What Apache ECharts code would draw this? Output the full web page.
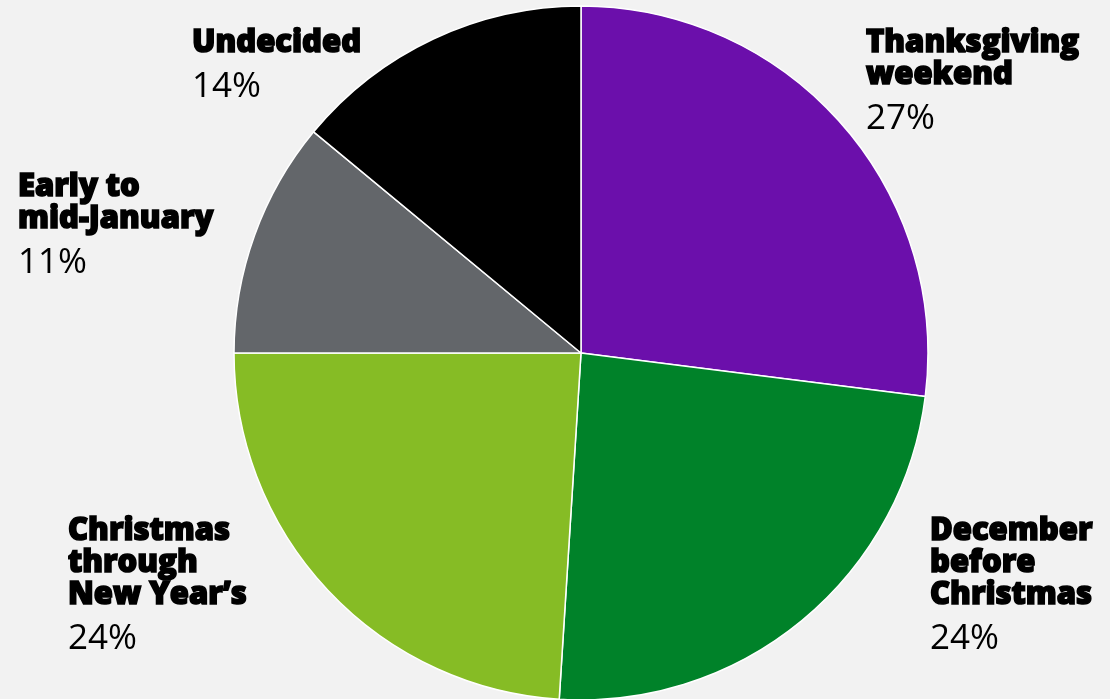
<!DOCTYPE html>
<html>
<head>
<meta charset="utf-8">
<script src="https://cdn.jsdelivr.net/npm/echarts@6/dist/echarts.min.js"></script>
<style>
  html, body { margin: 0; padding: 0; background: #f2f2f2; }
  #chart { width: 1110px; height: 699px; }
</style>
</head>
<body>
<div id="chart"></div>
<script>
// Holiday timing shares, clockwise from 12 o'clock
const categories = [
  'Thanksgiving\nweekend',
  'December\nbefore\nChristmas',
  'Christmas\nthrough\nNew Year\u2019s',
  'Early to\nmid-January',
  'Undecided'
];
const shares = [27, 24, 24, 11, 14];
const sliceColors = ['#6b0fab', '#008229', '#86bc25', '#63666a', '#000000'];

// Label anchors (top-left corner of each label block)
const labelAnchors = [
  [866, 27],
  [930, 515],
  [68, 515],
  [18, 171],
  [192, 27]
];

const chart = echarts.init(document.getElementById('chart'), null, { renderer: 'canvas' });

chart.setOption({
  backgroundColor: '#f2f2f2',
  animation: false,
  series: [{
    type: 'pie',
    center: [581, 353],
    radius: 347,
    startAngle: 90,
    clockwise: true,
    data: categories.map((name, i) => ({
      name: name,
      value: shares[i],
      itemStyle: { color: sliceColors[i] }
    })),
    itemStyle: { borderColor: '#ffffff', borderWidth: 1.5 },
    label: {
      show: true,
      position: 'outside',
      overflow: 'none',
      alignTo: 'none',
      formatter: p => '{n|' + p.name.split('\n').join('}\n{n|') + '}\n{p|' + p.value + '%}',
      rich: {
        n: {
          fontFamily: 'Open Sans', fontWeight: 800, fontSize: 31, lineHeight: 32,
          color: '#000', textBorderColor: '#000', textBorderWidth: 1.6
        },
        p: { fontFamily: 'Open Sans', fontWeight: 400, fontSize: 35, lineHeight: 56, color: '#000' }
      }
    },
    labelLine: { show: false },
    labelLayout: p => ({
      x: labelAnchors[p.dataIndex][0],
      y: labelAnchors[p.dataIndex][1],
      align: 'left',
      verticalAlign: 'top',
      hideOverlap: false,
      moveOverlap: false
    })
  }]
});
</script>
</body>
</html>
